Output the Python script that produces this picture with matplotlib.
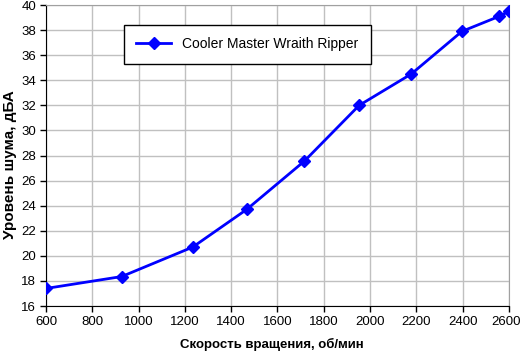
import matplotlib
matplotlib.use("Agg")
import matplotlib.pyplot as plt
import matplotlib.transforms as mtransforms

plt.rcParams['font.family'] = ['Liberation Sans', 'DejaVu Sans']

# Data
rpm = [600, 927, 1234, 1467, 1716, 1953, 2178, 2397, 2558, 2600]
noise = [17.4, 18.35, 20.7, 23.7, 27.55, 32.0, 34.5, 37.9, 39.1, 39.5]
series_name = "Cooler Master Wraith Ripper"

fig = plt.figure(figsize=(5.22, 3.56), dpi=100)
ax = fig.add_axes([0.0881, 0.1404, 0.8869, 0.8455])

ax.plot(rpm, noise, color='#0000ff', lw=2, marker='D', ms=6,
        label=series_name, zorder=3)

ax.set_xlim(600, 2600)
ax.set_ylim(16, 40)
ax.set_xticks(range(600, 2601, 200))
ax.set_yticks(range(16, 41, 2))
ax.grid(True, color='#c0c0c0', lw=1)
ax.set_axisbelow(True)

for s in ['top', 'right']:
    ax.spines[s].set_color('#a0a0a0')
for s in ['left', 'bottom']:
    ax.spines[s].set_color('black')
ax.tick_params(direction='out', length=4, width=1, labelsize=9.5, pad=3)

# keep the last x tick label inside the figure
last = ax.get_xticklabels()[-1]
last.set_transform(last.get_transform() +
                   mtransforms.ScaledTranslation(-3 / 100, 0, fig.dpi_scale_trans))

ax.set_xlabel("Скорость вращения, об/мин", fontsize=9.5, fontweight='bold')
ax.set_ylabel("Уровень шума, дБА", fontsize=11, fontweight='bold')
ax.xaxis.set_label_coords(0.487, -0.105)
ax.yaxis.set_label_coords(-0.063, 0.47)

leg = ax.legend(loc='upper left', bbox_to_anchor=(0.168, 0.935), fancybox=False,
                edgecolor='black', framealpha=1, fontsize=10, handlelength=2.5,
                borderpad=0.9, borderaxespad=0)
leg.get_frame().set_linewidth(1)

fig.savefig("out.png", dpi=100)
